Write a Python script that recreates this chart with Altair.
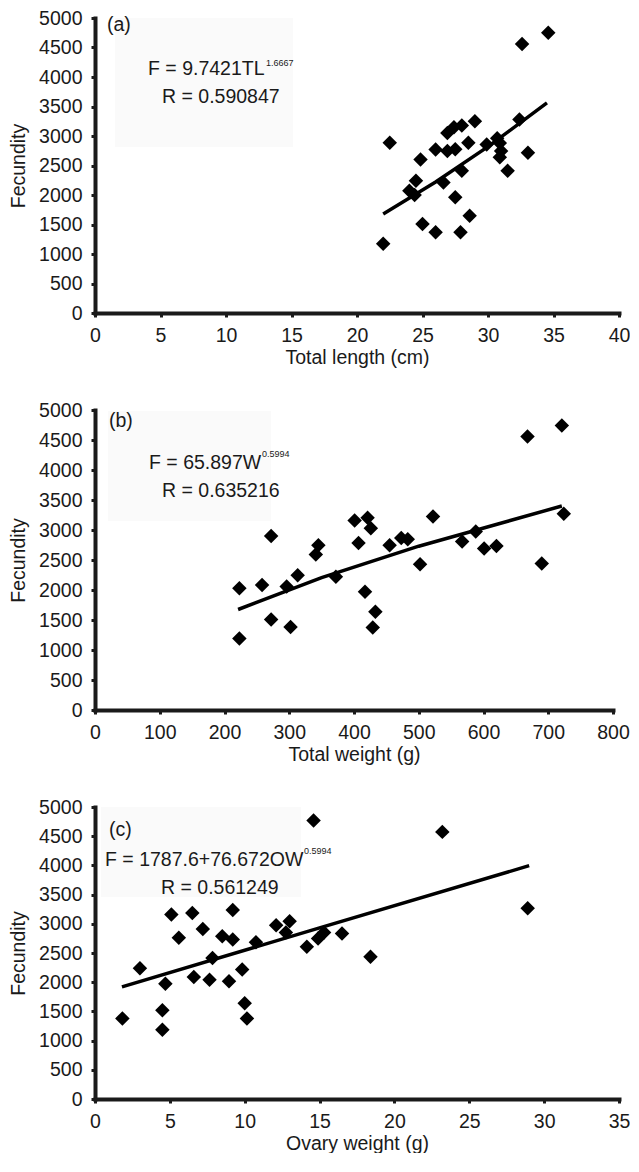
import altair as alt
import pandas as pd

# ---------------- data ----------------
# (a) Total length (cm) vs fecundity
tl = [22.0, 22.5, 24.0, 24.4, 24.5, 24.85, 25.0, 26.0, 26.0, 26.6, 26.9, 26.9, 27.4,
      27.5, 27.5, 27.9, 28.0, 28.0, 28.5, 28.6, 29.0, 29.9, 30.7, 30.9, 31.0, 30.9,
      31.5, 32.4, 32.6, 33.05, 34.6]
fec_a = [1175, 2885, 2070, 2000, 2240, 2600, 1510, 2770, 1370, 2210, 2745, 3050, 3150,
         2775, 1960, 1370, 3180, 2410, 2885, 1650, 3250, 2855, 2960, 2880, 2745, 2640,
         2410, 3280, 4560, 2715, 4750]
tl_fit = [22.0, 26.0, 30.0, 34.5]
fec_a_fit = [1680, 2220, 2820, 3560]

# (b) Total weight (g) vs fecundity
tw = [223, 223, 258, 272, 272, 296, 302, 313, 341, 345, 372, 401, 407, 421, 426, 417,
      433, 429, 455, 473, 483, 502, 522, 567, 588, 601, 620, 668, 690, 721, 724]
fec_b = [2030, 1190, 2085, 2900, 1510, 2060, 1385, 2245, 2590, 2745, 2220, 3160, 2785,
         3205, 3030, 1970, 1636, 1375, 2745, 2865, 2845, 2430, 3225, 2810, 2975, 2690,
         2735, 4557, 2440, 4740, 3270]
tw_fit = [221, 350, 500, 721]
fec_b_fit = [1675, 2205, 2730, 3400]

# (c) Ovary weight (g) vs fecundity
ow = [1.83, 3.0, 4.5, 4.5, 4.7, 5.1, 5.6, 6.5, 6.6, 7.2, 7.65, 7.85, 8.5, 8.95, 9.2,
      9.2, 9.83, 10.0, 10.15, 10.75, 12.1, 12.75, 13.0, 14.15, 14.6, 14.9, 15.3, 16.5,
      18.4, 23.2, 28.9]
fec_c = [1380, 2240, 1520, 1185, 1975, 3160, 2760, 3187, 2090, 2910, 2040, 2413, 2785,
         2015, 2730, 3235, 2217, 1640, 1380, 2685, 2974, 2850, 3045, 2609, 4770, 2750,
         2850, 2833, 2435, 4574, 3266]
ow_fit = [1.8, 15.0, 29.0]
fec_c_fit = [1920, 2930, 3995]

y_ticks = list(range(0, 5001, 500))

FONT = "Liberation Sans, Arial, sans-serif"
INK = "#1a1a1a"
FS = 19.5
YEXT = 60.5


def panel(xs, ys, fx, fy, xmax, xstep, xtitle, w, h,
          tag, tag_pos, eq, eq_pos, sup, sup_pos, rtxt, r_pos, box):
    pts = pd.DataFrame({"x": xs, "y": ys})
    fit = pd.DataFrame({"x": fx, "y": fy})
    xscale = alt.Scale(domain=[0, xmax], nice=False, zero=True)
    yscale = alt.Scale(domain=[0, 5000], nice=False)
    xaxis = alt.Axis(values=list(range(0, xmax + 1, xstep)), title=xtitle,
                     format="d", labelOverlap=False, labelFlush=False,
                     labelPadding=9, titlePadding=4)
    yaxis = alt.Axis(values=y_ticks, title="Fecundity", format="d",
                     labelOverlap=False, labelFlush=False, labelPadding=9,
                     titlePadding=6, minExtent=YEXT, maxExtent=YEXT)
    x_enc = alt.X("x:Q", scale=xscale, axis=xaxis)
    y_enc = alt.Y("y:Q", scale=yscale, axis=yaxis)

    rect = alt.Chart(alt.Data(values=[{"a": 1}])).mark_rect(
        color="#fafafa").encode(
        x=alt.value(box[0]), x2=alt.value(box[1]),
        y=alt.value(box[2]), y2=alt.value(box[3]))

    scatter = alt.Chart(pts).mark_point(
        shape="diamond", filled=True, size=210, color="#000000", opacity=1
    ).encode(x=x_enc, y=y_enc)
    line = alt.Chart(fit).mark_line(color="#000000", strokeWidth=3.5).encode(
        x=x_enc, y=y_enc)

    def txt(s, pos, size):
        return alt.Chart(alt.Data(values=[{"t": s}])).mark_text(
            align="left", baseline="alphabetic", font=FONT, fontSize=size,
            color=INK).encode(text="t:N", x=alt.value(pos[0]), y=alt.value(pos[1]))

    return alt.layer(
        rect, scatter, line,
        txt(tag, tag_pos, FS), txt(eq, eq_pos, FS), txt(sup, sup_pos, 9),
        txt(rtxt, r_pos, FS),
    ).properties(width=w, height=h)


pa = panel(tl, fec_a, tl_fit, fec_a_fit, 40, 5, "Total length (cm)", 524, 295,
           "(a)", (12, 13), "F = 9.7421TL", (53, 57), "1.6667", (171, 48),
           "R = 0.590847", (67, 85), (20, 198, 0, 129))
pb = panel(tw, fec_b, tw_fit, fec_b_fit, 800, 100, "Total weight (g)", 518, 300,
           "(b)", (14, 17), "F = 65.897W", (54, 59), "0.5994", (167, 47),
           "R = 0.635216", (67, 87), (13, 176, 1, 111))
pc = panel(ow, fec_c, ow_fit, fec_c_fit, 35, 5, "Ovary weight (g)", 524, 292,
           "(c)", (14, 29), "F = 1787.6+76.672OW", (10, 59), "0.5994", (209, 47),
           "R = 0.561249", (66, 87), (6, 206, 0, 90))

chart = alt.concat(pa, pb, pc, columns=1, spacing=33).properties(
    padding={"left": 0, "top": 0, "right": 0, "bottom": 0}
).configure(
    font=FONT,
    background="white",
).configure_view(
    stroke=None
).configure_axis(
    grid=False,
    domainColor=INK, domainWidth=4, domainCap="square",
    tickColor=INK, tickWidth=3, tickSize=4,
    labelFont=FONT, labelFontSize=FS, labelColor=INK,
    titleFont=FONT, titleFontSize=FS, titleColor=INK, titleFontWeight="normal",
)

chart.save("out.html", embed_options={"renderer": "svg", "actions": False})
